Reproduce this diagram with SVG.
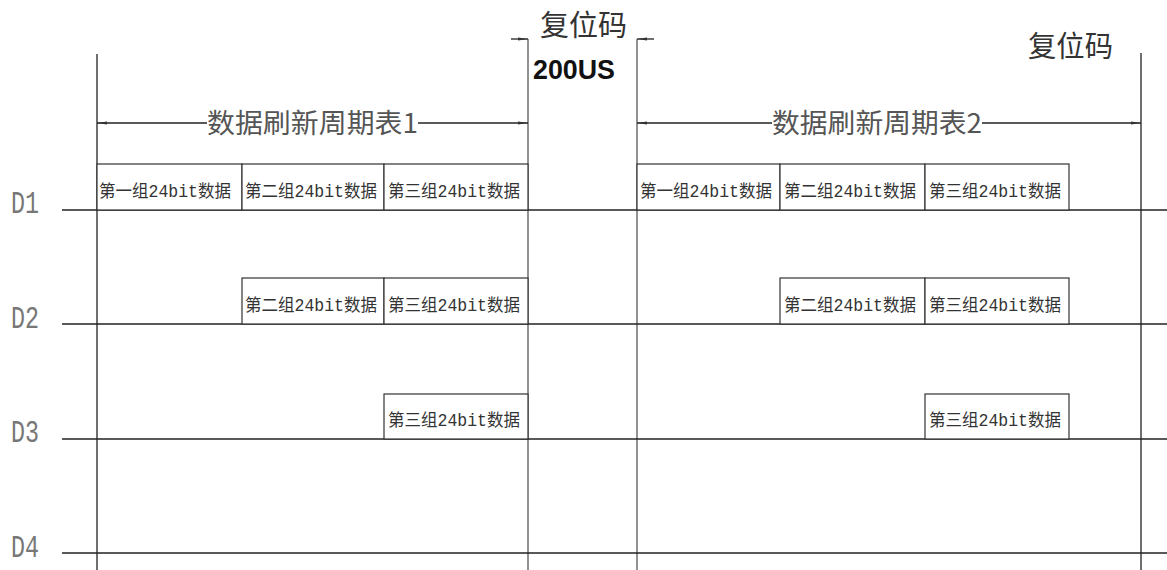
<svg xmlns="http://www.w3.org/2000/svg" width="1167" height="570" viewBox="0 0 1167 570">
<defs>
<style>
.ln{stroke:#222;stroke-width:1.3;fill:none}
.lg{stroke:#777;stroke-width:1.6;fill:none}
.box{fill:#fff;stroke:#333;stroke-width:1.2}
.bt{font-family:"Liberation Mono","Noto Sans CJK SC",monospace;font-size:17.5px;fill:#333}
.dl{font-family:"Liberation Mono",monospace;font-size:32px;fill:#777}
.tt{font-family:"Noto Sans CJK SC",sans-serif;font-size:27px;fill:#555}
.rc{font-family:"Noto Sans CJK SC",sans-serif;font-size:29px;fill:#333}
.us{font-family:"Liberation Sans",Arial,sans-serif;font-size:27px;font-weight:bold;fill:#111}
</style>
<marker id="ah" markerWidth="10" markerHeight="6" refX="10" refY="3" orient="auto-start-reverse" markerUnits="userSpaceOnUse">
<path d="M0,1.5 L10,3 L0,4.5 Z" fill="#333"/>
</marker>
</defs>
<rect width="1167" height="570" fill="#fff"/>
<g id="connectors">
<line class="ln" x1="97" y1="54" x2="97" y2="570"/>
<line class="lg" x1="528" y1="39" x2="528" y2="570"/>
<line class="lg" x1="637" y1="39" x2="637" y2="570"/>
<line class="ln" x1="1141" y1="53" x2="1141" y2="570"/>
<line class="ln" x1="62" y1="210" x2="1167" y2="210"/>
<line class="ln" x1="62" y1="324" x2="1167" y2="324"/>
<line class="ln" x1="62" y1="439" x2="1167" y2="439"/>
<line class="ln" x1="62" y1="553" x2="1167" y2="553"/>
<line class="ln" x1="207" y1="123" x2="97" y2="123" marker-end="url(#ah)"/>
<line class="ln" x1="418" y1="123" x2="528" y2="123" marker-end="url(#ah)"/>
<line class="ln" x1="772" y1="123" x2="637" y2="123" marker-end="url(#ah)"/>
<line class="ln" x1="982" y1="123" x2="1141" y2="123" marker-end="url(#ah)"/>
<line class="ln" x1="511" y1="39" x2="528" y2="39" marker-end="url(#ah)"/>
<line class="ln" x1="654" y1="39" x2="637" y2="39" marker-end="url(#ah)"/>
</g>
<g id="labels">
<text class="dl" x="11" y="213" textLength="28" lengthAdjust="spacingAndGlyphs">D1</text>
<text class="dl" x="11" y="328" textLength="28" lengthAdjust="spacingAndGlyphs">D2</text>
<text class="dl" x="11" y="442" textLength="28" lengthAdjust="spacingAndGlyphs">D3</text>
<text class="dl" x="11" y="557" textLength="28" lengthAdjust="spacingAndGlyphs">D4</text>
<text class="tt" x="207" y="133" textLength="211" lengthAdjust="spacingAndGlyphs">数据刷新周期表1</text>
<text class="tt" x="772" y="133" textLength="210" lengthAdjust="spacingAndGlyphs">数据刷新周期表2</text>
<text class="rc" x="540" y="36" textLength="87" lengthAdjust="spacingAndGlyphs">复位码</text>
<text class="rc" x="1028" y="57" textLength="85" lengthAdjust="spacingAndGlyphs">复位码</text>
<text class="us" x="533" y="79" textLength="82" lengthAdjust="spacingAndGlyphs">200US</text>
</g>
<g id="d1-left">
<g id="b-d1-1"><rect class="box" x="97" y="164" width="145" height="46"/><text class="bt" x="99" y="197" textLength="132" lengthAdjust="spacingAndGlyphs">第一组24bit数据</text></g>
<g id="b-d1-2"><rect class="box" x="242" y="164" width="142" height="46"/><text class="bt" x="245" y="197" textLength="132" lengthAdjust="spacingAndGlyphs">第二组24bit数据</text></g>
<g id="b-d1-3"><rect class="box" x="384" y="164" width="144" height="46"/><text class="bt" x="388" y="197" textLength="132" lengthAdjust="spacingAndGlyphs">第三组24bit数据</text></g>
</g>
<g id="d1-right">
<g id="b-d1-4"><rect class="box" x="637" y="164" width="143" height="46"/><text class="bt" x="640" y="197" textLength="132" lengthAdjust="spacingAndGlyphs">第一组24bit数据</text></g>
<g id="b-d1-5"><rect class="box" x="780" y="164" width="145" height="46"/><text class="bt" x="784" y="197" textLength="132" lengthAdjust="spacingAndGlyphs">第二组24bit数据</text></g>
<g id="b-d1-6"><rect class="box" x="925" y="164" width="144" height="46"/><text class="bt" x="929" y="197" textLength="132" lengthAdjust="spacingAndGlyphs">第三组24bit数据</text></g>
</g>
<g id="d2">
<g id="b-d2-1"><rect class="box" x="242" y="278" width="142" height="46"/><text class="bt" x="245" y="311" textLength="132" lengthAdjust="spacingAndGlyphs">第二组24bit数据</text></g>
<g id="b-d2-2"><rect class="box" x="384" y="278" width="144" height="46"/><text class="bt" x="388" y="311" textLength="132" lengthAdjust="spacingAndGlyphs">第三组24bit数据</text></g>
<g id="b-d2-3"><rect class="box" x="780" y="278" width="145" height="46"/><text class="bt" x="784" y="311" textLength="132" lengthAdjust="spacingAndGlyphs">第二组24bit数据</text></g>
<g id="b-d2-4"><rect class="box" x="925" y="278" width="144" height="46"/><text class="bt" x="929" y="311" textLength="132" lengthAdjust="spacingAndGlyphs">第三组24bit数据</text></g>
</g>
<g id="d3">
<g id="b-d3-1"><rect class="box" x="384" y="394" width="144" height="45"/><text class="bt" x="388" y="426" textLength="132" lengthAdjust="spacingAndGlyphs">第三组24bit数据</text></g>
<g id="b-d3-2"><rect class="box" x="925" y="394" width="144" height="45"/><text class="bt" x="929" y="426" textLength="132" lengthAdjust="spacingAndGlyphs">第三组24bit数据</text></g>
</g>
</svg>
